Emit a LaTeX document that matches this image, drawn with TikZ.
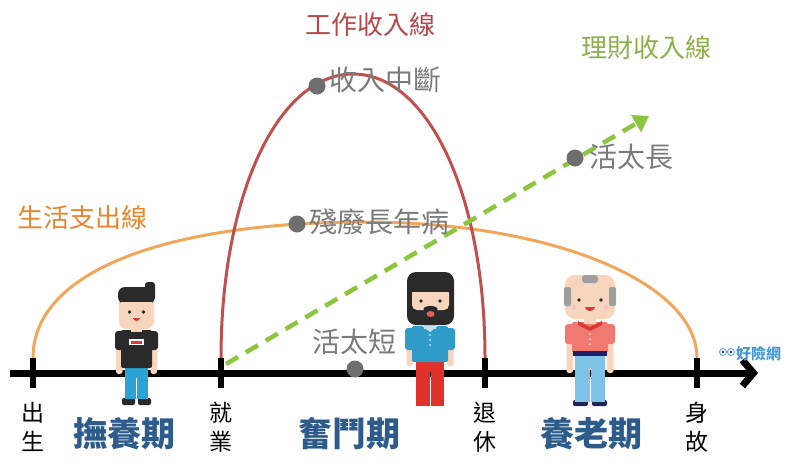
\documentclass[tikz,border=0pt]{standalone}
\usepackage{fontspec}
\newfontfamily\cjk{Noto Sans CJK TC}
\usetikzlibrary{arrows.meta}
\definecolor{expline}{HTML}{F2A65A}
\definecolor{exptext}{HTML}{E8862E}
\definecolor{workline}{HTML}{C0504D}
\definecolor{worktext}{HTML}{B5484B}
\definecolor{finline}{HTML}{8CC63F}
\definecolor{fintext}{HTML}{8BB04A}
\definecolor{risktext}{HTML}{7B7B7B}
\definecolor{riskdot}{HTML}{6E6E6E}
\definecolor{phase}{HTML}{2E5C8A}
\definecolor{skin}{HTML}{F8D5BD}
\definecolor{hairdark}{HTML}{2A2A2A}
\definecolor{jeans}{HTML}{2BA3D6}
\definecolor{polo}{HTML}{2E9BC9}
\definecolor{redpants}{HTML}{E0312B}
\definecolor{salmon}{HTML}{F07A72}
\definecolor{collar}{HTML}{D93A35}
\definecolor{lightpants}{HTML}{7EC3E6}
\definecolor{grayhair}{HTML}{9E9E9E}
\definecolor{logoblue}{HTML}{4A9AD8}
\begin{document}
\begin{tikzpicture}[x=1pt,y=-1pt,
  axisline/.style={line width=7pt,black},
  ticmark/.style={line width=6pt,black},
  expcurve/.style={line width=3pt,expline},
  workcurve/.style={line width=3pt,workline},
  fincurve/.style={line width=4.5pt,finline,dash pattern=on 14pt off 9pt,
    -{Triangle[length=15pt,width=19pt]}},
  curvetitle/.style={inner sep=0pt,font={\cjk\fontsize{26}{30}\selectfont}},
  risklabel/.style={inner sep=0pt,text=risktext,font={\cjk\fontsize{28}{32}\selectfont}},
  riskpoint/.style={circle,fill=riskdot,inner sep=0pt,minimum size=17pt},
  eventlabel/.style={inner sep=0pt,align=center,font={\cjk\fontsize{23}{29}\selectfont}},
  phaselabel/.style={inner sep=0pt,text=phase,font={\cjk\bfseries\fontsize{34}{38}\selectfont}},
  skinpart/.style={fill=skin,draw=none},
]
\useasboundingbox (0,0) rectangle (802,461);

% key moments on the time axis
\coordinate (birth) at (33,373);
\coordinate (job) at (221,373);
\coordinate (retire) at (485,373);
\coordinate (death) at (697,373);
\coordinate (axis-start) at (10,373);
\coordinate (axis-end) at (758,373);

% living expenses curve
\coordinate (exp-start) at (33,358);
\coordinate (exp-top) at (365,222);
\coordinate (exp-end) at (697,358);
\draw[expcurve] (exp-start) .. controls (33,268) and (175,222) .. (exp-top)
  .. controls (550,222) and (697,282) .. (exp-end);

% work income curve
\coordinate (work-start) at (221,358);
\coordinate (work-top) at (353,74);
\coordinate (work-end) at (485,358);
\draw[workcurve] (work-start) .. controls (221,195) and (278,74) .. (work-top)
  .. controls (428,74) and (485,195) .. (work-end);

% investment income line
\coordinate (fin-start) at (226,364);
\coordinate (fin-end) at (649,116);
\draw[fincurve] (fin-start) -- (fin-end);

% time axis
\draw[axisline,-{Straight Barb[length=11pt,width=26pt]}] (axis-start) -- (axis-end);
\foreach \p in {birth,job,retire,death}
  \draw[ticmark] ([yshift=-15pt]\p) -- ([yshift=15pt]\p);

% curve titles
\node[curvetitle,text=worktext] (work-title) at (370,25) {工作收入線};
\node[curvetitle,text=fintext] (fin-title) at (646,48) {理財收入線};
\node[curvetitle,text=exptext] (exp-title) at (82,218) {生活支出線};

% risk points
\node[riskpoint] (cut-dot) at (317,86) {};
\node[risklabel,anchor=west] (cut-text) at (329,80) {收入中斷};
\node[riskpoint] (long-dot) at (575,158) {};
\node[risklabel,anchor=west] (long-text) at (589,157) {活太長};
\node[riskpoint] (ill-dot) at (297,224) {};
\node[risklabel,anchor=west] (ill-text) at (309,222) {殘廢長年病};
\node[riskpoint] (short-dot) at (355,369) {};
\node[risklabel] (short-text) at (354,342) {活太短};

% event labels below the axis
\node[eventlabel] (birth-text) at (33,427) {出\\生};
\node[eventlabel] (job-text) at (221,427) {就\\業};
\node[eventlabel] (retire-text) at (485,427) {退\\休};
\node[eventlabel] (death-text) at (697,427) {身\\故};

% life phases
\node[phaselabel] (phase-raise) at (124,434) {撫養期};
\node[phaselabel] (phase-work) at (349,434) {奮鬥期};
\node[phaselabel] (phase-old) at (591,434) {養老期};

% young man
\begin{scope}
  \fill[hairdark,rounded corners=2pt] (122,398) rectangle (135,405);
  \fill[hairdark,rounded corners=2pt] (138,398) rectangle (151,405);
  \fill[jeans] (125,366) rectangle (136,399);
  \fill[jeans] (137,366) rectangle (148,399);
  \fill[jeans] (125,366) rectangle (148,378);
  \fill[skinpart,rounded corners=2.5pt] (116,344) rectangle (122.5,374);
  \fill[skinpart,rounded corners=2.5pt] (150.5,344) rectangle (157,374);
  \fill[hairdark,rounded corners=3pt] (115,331) rectangle (126,350);
  \fill[hairdark,rounded corners=3pt] (147,331) rectangle (158,350);
  \fill[hairdark,rounded corners=2pt] (121,330) rectangle (152,368);
  \fill[white] (129,339) rectangle (144,345);
  \fill[collar] (131,341) rectangle (142,343.5);
  \fill[skinpart] (131,324) rectangle (142,332);
  \fill[skinpart,rounded corners=8pt] (119,290) rectangle (154,329);
  \fill[hairdark,rounded corners=7pt] (118,287) rectangle (155,304);
  \fill[hairdark,rounded corners=3pt] (145,282) rectangle (155,296);
  \fill[skin] (121,302) rectangle (152,306);
  \fill[hairdark] (129.5,312) circle (1.8pt) (143.5,312) circle (1.8pt);
  \fill[collar] (133,318) -- (140,318) arc[start angle=0,end angle=-180,x radius=3.5pt,y radius=3pt] -- cycle;
\end{scope}

% bearded man
\begin{scope}
  \fill[redpants] (416,360) rectangle (429.5,406);
  \fill[redpants] (430.5,360) rectangle (444,406);
  \fill[redpants] (416,360) rectangle (444,372);
  \fill[skinpart,rounded corners=2.5pt] (406.5,346) rectangle (413,366);
  \fill[skinpart,rounded corners=2.5pt] (447,346) rectangle (453.5,366);
  \fill[polo,rounded corners=3pt] (405,328) rectangle (418,350);
  \fill[polo,rounded corners=3pt] (442,328) rectangle (455,350);
  \fill[polo,rounded corners=2pt] (412,326) rectangle (448,362);
  \fill[skinpart] (424,320) rectangle (436,329);
  \fill[white!70!polo] (422,326) -- (430,332) -- (438,326) -- cycle;
  \fill[white] (430,335) circle (0.9pt) (430,340) circle (0.9pt) (430,345) circle (0.9pt);
  \fill[hairdark,rounded corners=9pt] (407,272) rectangle (454,325);
  \fill[skinpart,rounded corners=5pt] (412,288) rectangle (449,310);
  \fill[hairdark] (412,288) rectangle (449,292);
  \fill[hairdark] (421,301) circle (1.8pt) (440,301) circle (1.8pt);
  \fill[hairdark] (430.5,309) ellipse (7pt and 3pt);
  \fill[collar!80!white] (430.5,314) ellipse (4pt and 3pt);
\end{scope}

% old man
\begin{scope}
  \fill[hairdark!80!blue,rounded corners=2pt] (573,400) rectangle (588,406);
  \fill[hairdark!80!blue,rounded corners=2pt] (592,400) rectangle (607,406);
  \fill[lightpants] (575,354) rectangle (589.5,402);
  \fill[lightpants] (590.5,354) rectangle (605,402);
  \fill[lightpants] (575,354) rectangle (605,368);
  \fill[skinpart,rounded corners=2.5pt] (566.5,340) rectangle (573,373);
  \fill[skinpart,rounded corners=2.5pt] (607,340) rectangle (613.5,373);
  \fill[salmon,rounded corners=3pt] (565,324) rectangle (578,344);
  \fill[salmon,rounded corners=3pt] (602,324) rectangle (615,344);
  \fill[salmon,rounded corners=2pt] (572,322) rectangle (608,353);
  \fill[hairdark!70!blue] (573,351) rectangle (607,356);
  \fill[skinpart] (584,316) rectangle (596,324);
  \fill[collar] (578,321) -- (590,327) -- (602,321) -- (602,325) -- (590,331) -- (578,325) -- cycle;
  \fill[white] (590,334) circle (0.9pt) (590,339) circle (0.9pt) (590,344) circle (0.9pt);
  \fill[skinpart,rounded corners=10pt] (565,275) rectangle (615,319);
  \fill[grayhair,rounded corners=2pt] (564,287) rectangle (571,306);
  \fill[grayhair,rounded corners=2pt] (609,287) rectangle (616,306);
  \fill[grayhair,rounded corners=3pt] (582,275) rectangle (598,283);
  \fill[collar!30!white] (574,307) circle (2.5pt) (606,307) circle (2.5pt);
  \fill[hairdark] (579,300) circle (1.9pt) (601,300) circle (1.9pt);
  \fill[collar] (585,307) -- (595,307) arc[start angle=0,end angle=-180,x radius=5pt,y radius=4pt] -- cycle;
\end{scope}

% brand mark
\node[circle,draw=logoblue,fill=white,line width=0.8pt,inner sep=0pt,minimum size=7pt] (logo-eye-a) at (723,352) {};
\node[circle,draw=logoblue,fill=white,line width=0.8pt,inner sep=0pt,minimum size=7pt] (logo-eye-b) at (731,352) {};
\fill[hairdark] (logo-eye-a) circle (1.4pt) (logo-eye-b) circle (1.4pt);
\node[inner sep=0pt,anchor=west,text=logoblue,font={\cjk\bfseries\fontsize{15}{16}\selectfont}] (logo-text) at (736,354) {好險網};
\end{tikzpicture}
\end{document}
